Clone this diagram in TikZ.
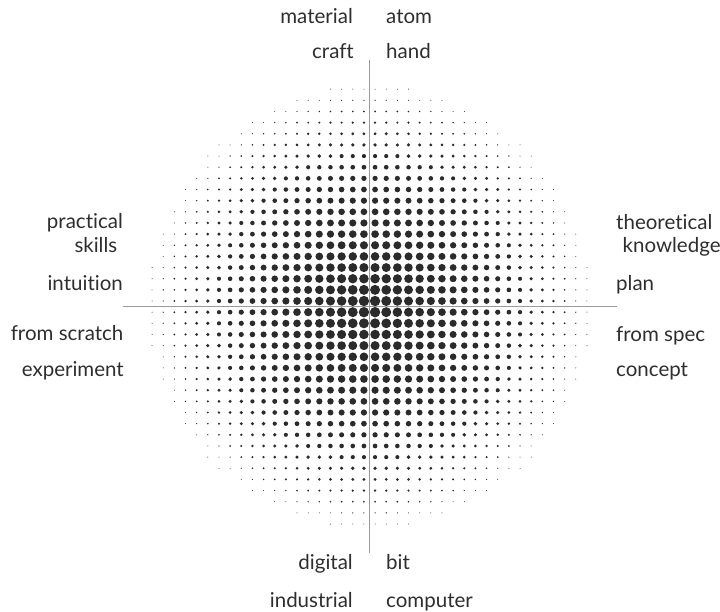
\documentclass[tikz,border=0pt]{standalone}
\usepackage{fontspec}
\setmainfont[Ligatures={NoCommon,NoRare,NoContextual}]{Lato}
\definecolor{dotc}{HTML}{2B2B2B}
\definecolor{axisc}{HTML}{9A9A9A}
\definecolor{txtc}{HTML}{2E2E2E}
\begin{document}
\begin{tikzpicture}[x=1pt,y=-1pt,
  lbl/.style={font=\fontsize{20.5}{23}\selectfont, text=txtc, inner sep=0pt},
  lft/.style={lbl, anchor=base east},
  rgt/.style={lbl, anchor=base west},
  axisline/.style={draw=axisc, line width=1.6pt}]
\useasboundingbox (0,0) rectangle (720,612);
% halftone dots
\foreach \i in {-20,...,19}{
  \foreach \j in {-20,...,19}{
    \pgfmathsetmacro\du{veclen(\i+0.5,\j+0.5)}
    \ifdim\du pt<19.9pt
      \pgfmathsetmacro\rr{max(5.35*(1-\du/20.27)^0.85,0.5)}
      \fill[dotc] ({369.5+(\i+0.5)*11.15},{306.6+(\j+0.5)*11.15}) circle[radius=\rr];
    \fi
  }
}
% axes
\coordinate (top) at (369.4,60);
\coordinate (bottom) at (369.4,553);
\coordinate (left) at (123,306.7);
\coordinate (right) at (617,306.7);
\draw[axisline] (top) -- (bottom);
\draw[axisline] (left) -- (right);
% top labels
\node[lft] (material) at (353,24) {material};
\node[rgt] (atom) at (386,24) {atom};
\node[lft] (craft) at (354,59) {craft};
\node[rgt] (hand) at (386,59) {hand};
% left labels
\node[lft] (practical) at (123,229) {practical};
\node[lft] (skills) at (117.5,253) {skills};
\node[lft] (intuition) at (123,290.5) {intuition};
\node[lft] (scratch) at (123.5,340) {from scratch};
\node[lft] (experiment) at (124,376) {experiment};
% right labels
\node[rgt] (theoretical) at (616,230) {theoretical};
\node[rgt] (knowledge) at (622.5,253) {knowledge};
\node[rgt] (plan) at (616,290.5) {plan};
\node[rgt] (spec) at (616,341) {from spec};
\node[rgt] (concept) at (616,376.5) {concept};
% bottom labels
\node[lft] (digital) at (353,569.5) {digital};
\node[rgt] (bit) at (386,569.5) {bit};
\node[lft] (industrial) at (353,607) {industrial};
\node[rgt] (computer) at (386,607) {computer};
\end{tikzpicture}
\end{document}
